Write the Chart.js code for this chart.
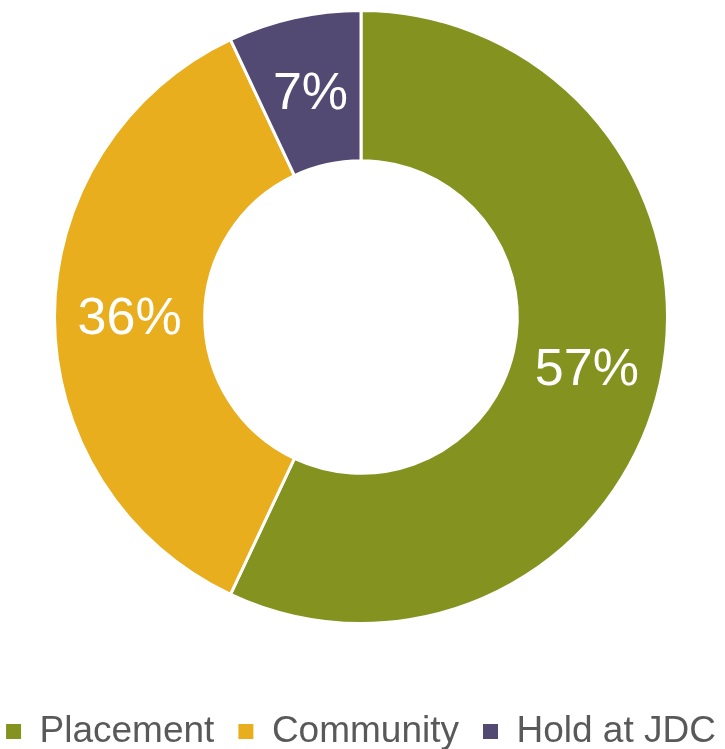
<!DOCTYPE html>
<html>
<head>
<meta charset="utf-8">
<script src="https://cdn.jsdelivr.net/npm/chart.js@4"></script>
<style>
  html,body{margin:0;padding:0;background:#fff;overflow:hidden;}
  #wrap{width:760px;height:760px;margin-left:-19px;position:relative;}
</style>
</head>
<body>
<div id="wrap"><canvas id="myChart"></canvas></div>
<script>
const labels = ["Placement", "Community", "Hold at JDC"];
const shares = [57, 36, 7];
const colors = ["#84921F", "#E9AE1E", "#524A73"];

// white percentage text in the middle of each slice
const sliceLabels = {
    id: 'sliceLabels',
    afterDatasetsDraw(chart){
        const ctx = chart.ctx;
        const meta = chart.getDatasetMeta(0);
        ctx.save();
        ctx.font = '52px "Liberation Sans", Arial, sans-serif';
        ctx.fillStyle = '#ffffff';
        ctx.textAlign = 'center';
        ctx.textBaseline = 'middle';
        meta.data.forEach((arc, i) => {
            const p = arc.tooltipPosition();
            ctx.fillText(shares[i] + '%', p.x, p.y + 3);
        });
        ctx.restore();
    }
};

var mychart = document.getElementById('myChart').getContext('2d');
new Chart(mychart, {
    type: 'doughnut',
    data: {
        labels,
        datasets: [{
            data: shares,
            backgroundColor: colors,
            borderColor: '#ffffff',
            borderWidth: 3
        }]
    },
    options: {
        responsive: true,
        maintainAspectRatio: false,
        animation: false,
        cutout: '51%',
        layout: { padding: { top: 9, bottom: 0 } },
        plugins: {
            tooltip: { enabled: false },
            legend: {
                position: 'bottom',
                // empty title only used as a spacer above the legend row
                title: { display: true, text: '', font: { size: 12 }, padding: { top: 49.6, bottom: 0 } },
                labels: {
                    boxWidth: 15,
                    boxHeight: 15,
                    padding: 24,
                    color: '#595959',
                    font: { family: '"Liberation Sans", Arial, sans-serif', size: 37 },
                    generateLabels(chart){
                        const items = Chart.overrides.doughnut.plugins.legend.labels.generateLabels(chart);
                        items.forEach(it => { it.lineWidth = 0; });
                        return items;
                    }
                }
            }
        }
    },
    plugins: [sliceLabels]
});
</script>
</body>
</html>
